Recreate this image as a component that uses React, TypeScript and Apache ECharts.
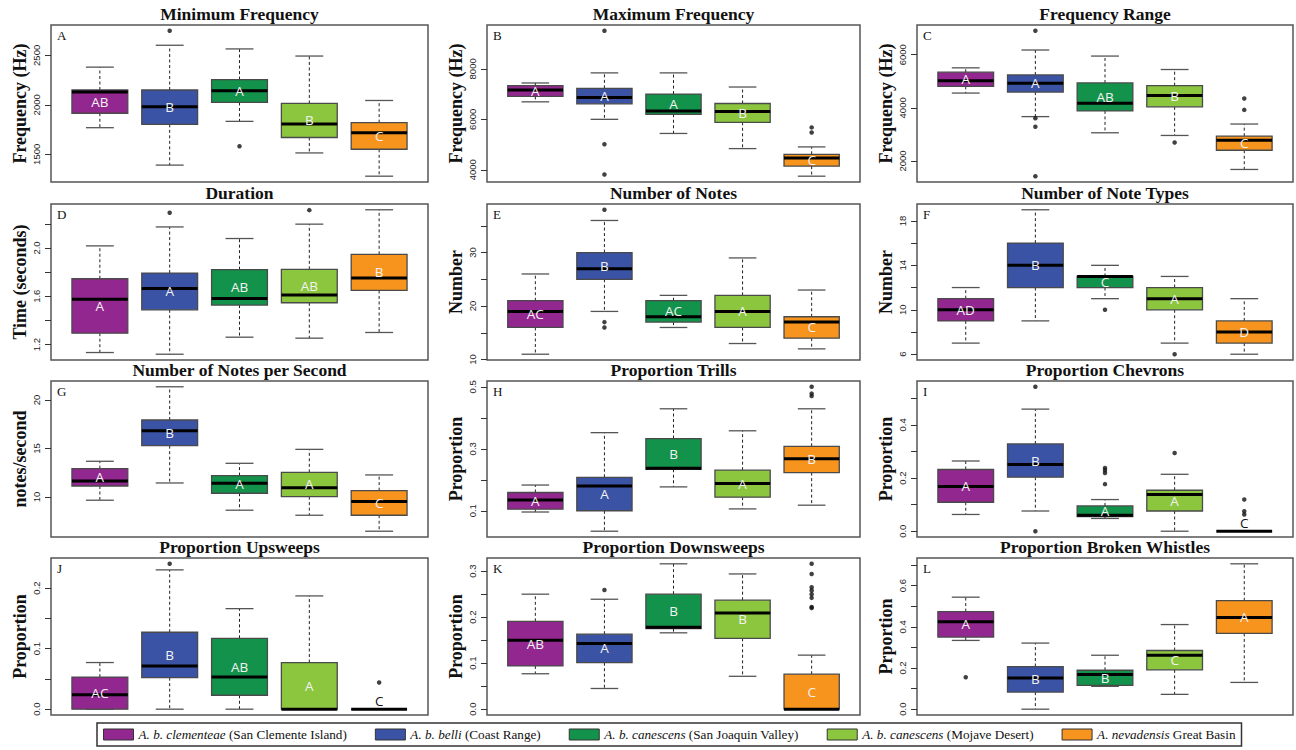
import React, { useEffect, useRef } from "react";
import * as echarts from "echarts";

const groupNames = [
  "A. b. clementeae (San Clemente Island)",
  "A. b. belli (Coast Range)",
  "A. b. canescens (San Joaquin Valley)",
  "A. b. canescens (Mojave Desert)",
  "A. nevadensis Great Basin",
];
const groupItalic = ["A. b. clementeae", "A. b. belli", "A. b. canescens", "A. b. canescens", "A. nevadensis"];
const groupRest = ["(San Clemente Island)", "(Coast Range)", "(San Joaquin Valley)", "(Mojave Desert)", "Great Basin"];
const groupColors = ["#92278F", "#3A53A4", "#12924A", "#8CC63F", "#F7941E"];

// [lower whisker, Q1, median, Q3, upper whisker]
const minFreqStats = [
  [1769, 1915, 2130, 2150, 2381],
  [1391, 1803, 1980, 2150, 2602],
  [1833, 2024, 2143, 2255, 2565],
  [1514, 1670, 1806, 2014, 2493],
  [1279, 1551, 1718, 1820, 2044],
];
const minFreqOutliers = [[], [2748], [1582], [], []];
const minFreqLetters = ["AB", "B", "A", "B", "C"];
const minFreqTicks = [1500, 2000, 2500];
const minFreqLabels = [1500, 2000, 2500];

const maxFreqStats = [
  [6693, 6907, 7160, 7333, 7440],
  [6000, 6613, 6867, 7227, 7840],
  [5440, 6200, 6333, 7000, 7840],
  [4840, 5880, 6307, 6627, 7280],
  [3747, 4147, 4467, 4613, 4907],
];
const maxFreqOutliers = [[], [9507, 5013, 3813], [], [], [5680, 5480]];
const maxFreqLetters = ["A", "A", "A", "B", "C"];
const maxFreqTicks = [4000, 6000, 8000];
const maxFreqLabels = [4000, 6000, 8000];

const rangeStats = [
  [4557, 4810, 5025, 5342, 5506],
  [3671, 4595, 4924, 5240, 6177],
  [3063, 3886, 4177, 4937, 5949],
  [2962, 4038, 4468, 4835, 5443],
  [1683, 2405, 2784, 2936, 3392],
];
const rangeOutliers = [[], [6899, 3607, 3291, 1430], [], [2696], [4354, 3924]];
const rangeLetters = ["A", "A", "AB", "B", "C"];
const rangeTicks = [2000, 4000, 6000];
const rangeLabels = [2000, 4000, 6000];

const durationStats = [
  [1.134, 1.294, 1.576, 1.745, 2.017],
  [1.12, 1.488, 1.665, 1.792, 2.174],
  [1.261, 1.527, 1.582, 1.82, 2.078],
  [1.253, 1.546, 1.61, 1.823, 2.197],
  [1.3, 1.648, 1.751, 1.947, 2.316],
];
const durationOutliers = [[], [2.291], [], [2.313], []];
const durationLetters = ["A", "A", "AB", "AB", "B"];
const durationTicks = [1.2, 1.4, 1.6, 1.8, 2.0, 2.2];
const durationLabels = [1.2, 1.6, 2.0];

const notesStats = [
  [11, 16, 19, 21, 26],
  [19, 25, 27, 30, 36],
  [16, 17, 18, 21, 22],
  [13, 16, 19, 22, 29],
  [12, 14, 17, 18, 23],
];
const notesOutliers = [[], [38, 17, 16], [], [], []];
const notesLetters = ["AC", "B", "AC", "A", "C"];
const notesTicks = [10, 15, 20, 25, 30, 35];
const notesLabels = [10, 20, 30];

const typesStats = [
  [7, 9, 10, 11, 12],
  [9, 12, 14, 16, 19],
  [11, 12, 13, 13, 14],
  [7, 10, 11, 12, 13],
  [6, 7, 8, 9, 11],
];
const typesOutliers = [[], [], [10], [6], []];
const typesLetters = ["AD", "B", "C", "A", "D"];
const typesTicks = [6, 8, 10, 12, 14, 16, 18];
const typesLabels = [6, 10, 14, 18];

const rateStats = [
  [9.66, 11.13, 11.65, 12.92, 13.68],
  [11.44, 15.29, 16.84, 17.94, 21.37],
  [8.63, 10.38, 11.41, 12.2, 13.47],
  [8.11, 10.03, 10.96, 12.54, 14.91],
  [6.46, 8.11, 9.52, 10.65, 12.27],
];
const rateOutliers = [[], [], [], [], []];
const rateLetters = ["A", "B", "A", "A", "C"];
const rateTicks = [10, 15, 20];
const rateLabels = [10, 15, 20];

const trillStats = [
  [0.096, 0.105, 0.135, 0.159, 0.183],
  [0.034, 0.1, 0.18, 0.208, 0.352],
  [0.177, 0.234, 0.237, 0.333, 0.429],
  [0.106, 0.144, 0.188, 0.231, 0.358],
  [0.118, 0.223, 0.268, 0.308, 0.429],
];
const trillOutliers = [[], [], [], [], [0.5, 0.478, 0.47]];
const trillLetters = ["A", "A", "B", "A", "B"];
const trillTicks = [0.1, 0.2, 0.3, 0.4, 0.5];
const trillLabels = [0.1, 0.3, 0.5];

const chevronStats = [
  [0.063, 0.109, 0.168, 0.232, 0.264],
  [0.076, 0.203, 0.251, 0.328, 0.459],
  [0.048, 0.055, 0.06, 0.095, 0.119],
  [0.0, 0.076, 0.138, 0.154, 0.214],
  [0, 0, 0, 0, 0],
];
const chevronOutliers = [[], [0.543, 0.0], [0.238, 0.229, 0.219, 0.177], [0.294], [0.119, 0.075, 0.063]];
const chevronLetters = ["A", "B", "A", "A", "C"];
const chevronTicks = [0, 0.1, 0.2, 0.3, 0.4, 0.5];
const chevronLabels = [0, 0.2, 0.4];

const upStats = [
  [0, 0, 0.024, 0.053, 0.077],
  [0, 0.052, 0.0715, 0.127, 0.23],
  [0, 0.023, 0.053, 0.117, 0.166],
  [0, 0, 0, 0.077, 0.187],
  [0, 0, 0, 0, 0],
];
const upOutliers = [[], [0.24], [], [], [0.044]];
const upLetters = ["AC", "B", "AB", "A", "C"];
const upTicks = [0, 0.05, 0.1, 0.15, 0.2];
const upLabels = [0, 0.1, 0.2];

const downStats = [
  [0.077, 0.094, 0.15, 0.191, 0.25],
  [0.045, 0.101, 0.143, 0.163, 0.239],
  [0.166, 0.175, 0.178, 0.25, 0.316],
  [0.0715, 0.154, 0.209, 0.237, 0.294],
  [0, 0, 0, 0.076, 0.1175],
];
const downOutliers = [[], [0.259], [], [], [0.316, 0.294, 0.265, 0.258, 0.25, 0.242, 0.222, 0.22]];
const downLetters = ["AB", "A", "B", "B", "C"];
const downTicks = [0, 0.05, 0.1, 0.15, 0.2, 0.25, 0.3];
const downLabels = [0, 0.1, 0.2, 0.3];

const brokenStats = [
  [0.334, 0.35, 0.425, 0.474, 0.544],
  [0, 0.083, 0.152, 0.207, 0.321],
  [0.111, 0.116, 0.168, 0.189, 0.262],
  [0.072, 0.191, 0.262, 0.285, 0.411],
  [0.13, 0.368, 0.445, 0.527, 0.706],
];
const brokenOutliers = [[0.155], [], [], [], []];
const brokenLetters = ["A", "B", "B", "C", "A"];
const brokenTicks = [0, 0.1, 0.2, 0.3, 0.4, 0.5, 0.6, 0.7];
const brokenLabels = [0, 0.2, 0.4, 0.6];

const panels = [
  { title: "Minimum Frequency", yName: "Frequency (Hz)", tag: "A", stats: minFreqStats, outliers: minFreqOutliers, letters: minFreqLetters, ticks: minFreqTicks, labels: minFreqLabels, dec: 0 },
  { title: "Maximum Frequency", yName: "Frequency (Hz)", tag: "B", stats: maxFreqStats, outliers: maxFreqOutliers, letters: maxFreqLetters, ticks: maxFreqTicks, labels: maxFreqLabels, dec: 0 },
  { title: "Frequency Range", yName: "Frequency (Hz)", tag: "C", stats: rangeStats, outliers: rangeOutliers, letters: rangeLetters, ticks: rangeTicks, labels: rangeLabels, dec: 0 },
  { title: "Duration", yName: "Time (seconds)", tag: "D", stats: durationStats, outliers: durationOutliers, letters: durationLetters, ticks: durationTicks, labels: durationLabels, dec: 1 },
  { title: "Number of Notes", yName: "Number", tag: "E", stats: notesStats, outliers: notesOutliers, letters: notesLetters, ticks: notesTicks, labels: notesLabels, dec: 0 },
  { title: "Number of Note Types", yName: "Number", tag: "F", stats: typesStats, outliers: typesOutliers, letters: typesLetters, ticks: typesTicks, labels: typesLabels, dec: 0 },
  { title: "Number of Notes per Second", yName: "notes/second", tag: "G", stats: rateStats, outliers: rateOutliers, letters: rateLetters, ticks: rateTicks, labels: rateLabels, dec: 0 },
  { title: "Proportion Trills", yName: "Proportion", tag: "H", stats: trillStats, outliers: trillOutliers, letters: trillLetters, ticks: trillTicks, labels: trillLabels, dec: 1 },
  { title: "Proportion Chevrons", yName: "Proportion", tag: "I", stats: chevronStats, outliers: chevronOutliers, letters: chevronLetters, ticks: chevronTicks, labels: chevronLabels, dec: 1 },
  { title: "Proportion Upsweeps", yName: "Proportion", tag: "J", stats: upStats, outliers: upOutliers, letters: upLetters, ticks: upTicks, labels: upLabels, dec: 1 },
  { title: "Proportion Downsweeps", yName: "Proportion", tag: "K", stats: downStats, outliers: downOutliers, letters: downLetters, ticks: downTicks, labels: downLabels, dec: 1 },
  { title: "Proportion Broken Whistles", yName: "Prportion", tag: "L", stats: brokenStats, outliers: brokenOutliers, letters: brokenLetters, ticks: brokenTicks, labels: brokenLabels, dec: 1 },
];

const colLefts = [51, 487, 917];
const colWidths = [377, 373, 376];
const rowTops = [25, 204, 381, 558];
const rowHeights = [157, 156, 156, 157];

const SERIF = "'Liberation Serif', 'Times New Roman', serif";
const SANS = "'Open Sans', 'Liberation Sans', sans-serif";

function makeRender(letter: string) {
  return (params: any, api: any) => {
    const x = api.value(0);
    const lo = api.value(1), q1 = api.value(2), med = api.value(3), q3 = api.value(4), hi = api.value(5);
    const pLo = api.coord([x, lo]);
    const pQ1 = api.coord([x, q1]);
    const pMed = api.coord([x, med]);
    const pQ3 = api.coord([x, q3]);
    const pHi = api.coord([x, hi]);
    const w = api.size([0.8, 0])[0];
    const cx = pMed[0];
    const color = api.visual("color");
    const dash = { stroke: "#222", lineWidth: 1, lineDash: [3, 2.5] };
    const cap = { stroke: "#555", lineWidth: 1.3 };
    const children: any[] = [];
    if (pHi[1] < pQ3[1]) children.push({ type: "line", shape: { x1: cx, y1: pQ3[1], x2: cx, y2: pHi[1] }, style: dash });
    if (pLo[1] > pQ1[1]) children.push({ type: "line", shape: { x1: cx, y1: pQ1[1], x2: cx, y2: pLo[1] }, style: dash });
    children.push({ type: "line", shape: { x1: cx - w / 4, y1: pHi[1], x2: cx + w / 4, y2: pHi[1] }, style: cap });
    children.push({ type: "line", shape: { x1: cx - w / 4, y1: pLo[1], x2: cx + w / 4, y2: pLo[1] }, style: cap });
    children.push({
      type: "rect",
      shape: { x: cx - w / 2, y: pQ3[1], width: w, height: pQ1[1] - pQ3[1] },
      style: { fill: color, stroke: "#4a4a4a", lineWidth: 1.3 },
    });
    children.push({
      type: "line",
      shape: { x1: cx - w / 2, y1: pMed[1], x2: cx + w / 2, y2: pMed[1] },
      style: { stroke: "#000", lineWidth: 3 },
    });
    const flat = pQ1[1] - pQ3[1] < 3;
    children.push({
      type: "text",
      x: cx,
      y: flat ? pQ3[1] - 8 : (pQ1[1] + pQ3[1]) / 2,
      style: {
        text: letter,
        fill: flat ? "#111" : "#f2f2f2",
        font: `13.5px ${SANS}`,
        align: "center",
        verticalAlign: "middle",
        textAlign: "center",
        textVerticalAlign: "middle",
      },
    });
    return { type: "group", children };
  };
}

export default function App() {
  const ref = useRef<HTMLDivElement>(null);
  useEffect(() => {
    if (!ref.current) return;
    const chart = echarts.init(ref.current, null, { renderer: "svg" });
    const grid: any[] = [];
    const xAxis: any[] = [];
    const yAxis: any[] = [];
    const series: any[] = [];
    const title: any[] = [];
    const graphic: any[] = [];
    panels.forEach((p, i) => {
      const r = Math.floor(i / 3);
      const c = i % 3;
      const left = colLefts[c], top = rowTops[r], width = colWidths[c], height = rowHeights[r];
      grid.push({
        left, top, width, height, show: true, borderColor: "#555", borderWidth: 1.5,
        backgroundColor: "transparent", containLabel: false, outerBoundsMode: "none",
      });
      const all: number[] = [];
      p.stats.forEach((s) => all.push(...s));
      p.outliers.forEach((o) => all.push(...o));
      const dmin = Math.min(...all), dmax = Math.max(...all);
      const pad = (dmax - dmin) * 0.04;
      xAxis.push({ type: "value", gridIndex: i, min: 0.3, max: 5.7, show: false });
      yAxis.push({
        type: "value", gridIndex: i, min: dmin - pad, max: dmax + pad,
        name: p.yName, nameLocation: "middle", nameGap: 22, nameMoveOverlap: false,
        nameTextStyle: { fontFamily: SERIF, fontWeight: "bold", fontSize: 18, color: "#111" },
        axisLine: { show: false },
        axisTick: { show: true, length: 6, customValues: p.ticks, lineStyle: { color: "#333", width: 1 } },
        axisLabel: {
          show: true, rotate: 90, margin: 10, fontSize: 9.5, fontFamily: "'Liberation Sans', Arial, sans-serif",
          color: "#222", customValues: p.labels, formatter: (v: number) => v.toFixed(p.dec),
        },
        splitLine: { show: false },
      });
      title.push({
        text: p.title, left: left + width / 2, top: top - 20, textAlign: "center", padding: 0,
        textStyle: { fontFamily: SERIF, fontWeight: "bold", fontSize: 17.5, color: "#111" },
      });
      graphic.push({
        type: "text", left: left + 6, top: top + 4,
        style: { text: p.tag, font: `13px ${SERIF}`, fill: "#111" },
      });
      p.stats.forEach((s, g) => {
        series.push({
          type: "custom", name: groupNames[g], xAxisIndex: i, yAxisIndex: i,
          itemStyle: { color: groupColors[g] },
          renderItem: makeRender(p.letters[g]),
          data: [[g + 1, ...s]],
          silent: true,
        });
      });
      const pts: number[][] = [];
      p.outliers.forEach((o, g) => o.forEach((v) => pts.push([g + 1, v])));
      series.push({
        type: "scatter", xAxisIndex: i, yAxisIndex: i, data: pts, symbol: "circle",
        symbolSize: 4.5, itemStyle: { color: "#111" }, silent: true,
      });
    });
    chart.setOption({
      animation: false,
      backgroundColor: "#fff",
      title,
      grid,
      xAxis,
      yAxis,
      series,
      graphic,
      legend: {
        data: groupNames.map((n) => ({ name: n, icon: "rect" })),
        left: 97, top: 723, padding: [5, 6], itemGap: 28,
        itemWidth: 30, itemHeight: 11,
        borderColor: "#333", borderWidth: 1.5,
        selectedMode: false,
        itemStyle: { borderColor: "#333", borderWidth: 1 },
        formatter: (name: string) => {
          const k = groupNames.indexOf(name);
          return `{i|${groupItalic[k]}} ${groupRest[k]}`;
        },
        textStyle: {
          fontFamily: SERIF, fontSize: 13.2, color: "#111",
          rich: { i: { fontFamily: SERIF, fontSize: 13.2, fontStyle: "italic", color: "#111" } },
        },
      },
    });
    return () => chart.dispose();
  }, []);
  return (
    <div
      ref={ref}
      style={{ position: "absolute", left: 0, top: 0, width: 1296, height: 750, background: "#fff" }}
    />
  );
}
